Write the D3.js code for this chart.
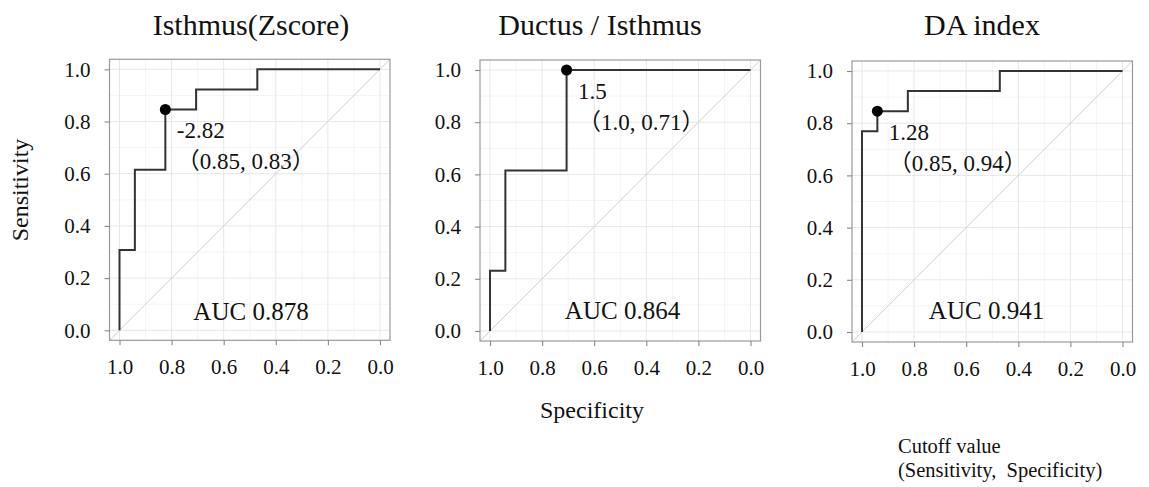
<!DOCTYPE html>
<html>
<head>
<meta charset="utf-8">
<script src="https://cdn.jsdelivr.net/npm/d3@7"></script>
<style>
  html, body { margin: 0; padding: 0; background: #fff; }
  svg text { font-family: "Liberation Serif", "Times New Roman", "Noto Sans CJK JP", serif; fill: #111; }
</style>
</head>
<body>
<svg id="chart" width="1149" height="487"></svg>
<script>
// ---------------- data ----------------
const titles = ["Isthmus(Zscore)", "Ductus / Isthmus", "DA index"];

// ROC operating points (specificity, sensitivity), drawn as steps
const spec1 = [1.0, 1.0, 0.941, 0.824, 0.706, 0.471, 0.0];
const sens1 = [0.0, 0.308, 0.615, 0.846, 0.923, 1.0, 1.0];
const spec2 = [1.0, 1.0, 0.941, 0.706, 0.0];
const sens2 = [0.0, 0.231, 0.615, 1.0, 1.0];
const spec3 = [1.0, 1.0, 0.941, 0.824, 0.471, 0.0];
const sens3 = [0.0, 0.769, 0.846, 0.923, 1.0, 1.0];

// chosen cutoff points
const cutSpec = [0.824, 0.706, 0.941];
const cutSens = [0.846, 1.0, 0.846];
const cutValue = ["-2.82", "1.5", "1.28"];
const cutPair = ["（0.85, 0.83）", "（1.0, 0.71）", "（0.85, 0.94）"];

const aucLabels = ["AUC 0.878", "AUC 0.864", "AUC 0.941"];

const tickValues = [1.0, 0.8, 0.6, 0.4, 0.2, 0.0];
const minorValues = [0.1, 0.3, 0.5, 0.7, 0.9];

// ---------------- layout ----------------
const panels = [
  { left: 109.5, top: 59.3, titleX: 251, aucX: 251, aucY: 320 },
  { left: 480,   top: 60,   titleX: 600, aucX: 622.5, aucY: 319.3 },
  { left: 852,   top: 61,   titleX: 982, aucX: 986.5, aucY: 318.5 }
];
const PW = 280.5, PH = 281, PAD = 10;

const svg = d3.select("#chart");
const specs = [spec1, spec2, spec3];
const senss = [sens1, sens2, sens3];

panels.forEach((p, i) => {
  const x = d3.scaleLinear().domain([1, 0]).range([p.left + PAD, p.left + PW - PAD]);
  const y = d3.scaleLinear().domain([0, 1]).range([p.top + PH - PAD, p.top + PAD]);

  const g = svg.append("g");
  const clipId = "clip" + i;
  svg.append("clipPath").attr("id", clipId)
    .append("rect").attr("x", p.left).attr("y", p.top).attr("width", PW).attr("height", PH);

  // grid
  const grid = g.append("g");
  grid.selectAll(".vminor").data(minorValues).join("line")
    .attr("x1", d => x(d)).attr("x2", d => x(d))
    .attr("y1", p.top).attr("y2", p.top + PH)
    .attr("stroke", "#f1f1f1").attr("stroke-width", 0.8);
  grid.selectAll(".hminor").data(minorValues).join("line")
    .attr("y1", d => y(d)).attr("y2", d => y(d))
    .attr("x1", p.left).attr("x2", p.left + PW)
    .attr("stroke", "#f1f1f1").attr("stroke-width", 0.8);
  grid.selectAll(".vmajor").data(tickValues).join("line")
    .attr("x1", d => x(d)).attr("x2", d => x(d))
    .attr("y1", p.top).attr("y2", p.top + PH)
    .attr("stroke", "#e7e7e7").attr("stroke-width", 1);
  grid.selectAll(".hmajor").data(tickValues).join("line")
    .attr("y1", d => y(d)).attr("y2", d => y(d))
    .attr("x1", p.left).attr("x2", p.left + PW)
    .attr("stroke", "#e7e7e7").attr("stroke-width", 1);

  // diagonal reference line across the whole panel
  const e0 = x.invert(p.left), e1 = x.invert(p.left + PW);
  g.append("line")
    .attr("clip-path", `url(#${clipId})`)
    .attr("x1", x(e0)).attr("y1", y(1 - e0))
    .attr("x2", x(e1)).attr("y2", y(1 - e1))
    .attr("stroke", "#cfcfcf").attr("stroke-width", 1);

  // ROC step curve
  const pts = specs[i].map((s, k) => [s, senss[i][k]]);
  const line = d3.line().x(d => x(d[0])).y(d => y(d[1])).curve(d3.curveStepAfter);
  g.append("path").datum(pts)
    .attr("d", line)
    .attr("fill", "none")
    .attr("stroke", "#333")
    .attr("stroke-width", 2);

  // cutoff point
  const cx = x(cutSpec[i]), cy = y(cutSens[i]);
  g.append("circle").attr("cx", cx).attr("cy", cy).attr("r", 5.5).attr("fill", "#000");

  // annotation
  g.append("text").attr("x", cx + 11.5).attr("y", cy + 29)
    .attr("font-size", 23).text(cutValue[i]);
  g.append("text").attr("x", cx + 11.5).attr("y", cy + 60)
    .attr("font-size", 23).text(cutPair[i]);

  // AUC
  g.append("text").attr("x", p.aucX).attr("y", p.aucY)
    .attr("text-anchor", "middle").attr("font-size", 25).text(aucLabels[i]);

  // panel border
  g.append("rect").attr("x", p.left).attr("y", p.top).attr("width", PW).attr("height", PH)
    .attr("fill", "none").attr("stroke", "#9a9a9a").attr("stroke-width", 1.2);

  // axes
  const xAxis = d3.axisBottom(x).tickValues(tickValues).tickFormat(d3.format(".1f"))
    .tickSize(5).tickPadding(14);
  const ax = g.append("g").attr("transform", `translate(0,${p.top + PH})`).call(xAxis);
  const yAxis = d3.axisLeft(y).tickValues(tickValues).tickFormat(d3.format(".1f"))
    .tickSize(5).tickPadding(14);
  const ay = g.append("g").attr("transform", `translate(${p.left},0)`).call(yAxis);
  [ax, ay].forEach(a => {
    a.select(".domain").remove();
    a.selectAll(".tick line").attr("stroke", "#888").attr("stroke-width", 1.1);
    a.selectAll(".tick text").attr("font-size", 21).attr("fill", "#111");
  });

  // title
  svg.append("text").attr("x", p.titleX).attr("y", 35)
    .attr("text-anchor", "middle").attr("font-size", 30).text(titles[i]);
});

// axis titles
svg.append("text").attr("x", 592).attr("y", 418)
  .attr("text-anchor", "middle").attr("font-size", 24).text("Specificity");
svg.append("text").attr("transform", "translate(28,190) rotate(-90)")
  .attr("text-anchor", "middle").attr("font-size", 24).text("Sensitivity");

// legend note
svg.append("text").attr("x", 898).attr("y", 453).attr("font-size", 20.5).text("Cutoff value");
svg.append("text").attr("x", 898).attr("y", 477).attr("font-size", 20.5)
  .attr("xml:space", "preserve").style("white-space", "pre")
  .text("(Sensitivity,  Specificity)");
</script>
</body>
</html>
